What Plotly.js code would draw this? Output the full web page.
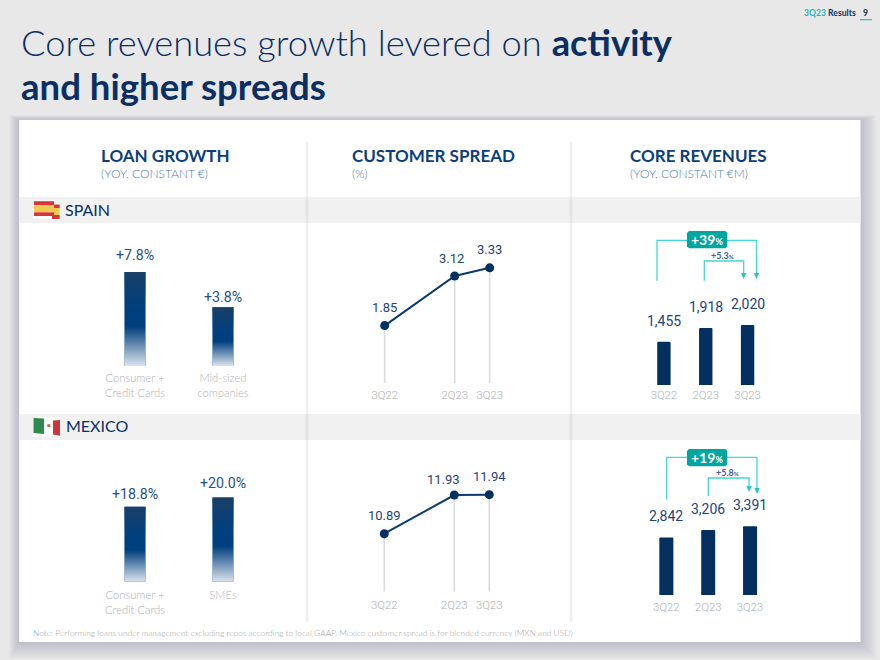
<!DOCTYPE html>
<html><head><meta charset="utf-8">
<script src="https://cdn.plot.ly/plotly-3.0.1.min.js"></script>
<style>html,body{margin:0;padding:0;background:#e8e8e9}#c{width:880px;height:660px}</style>
</head><body><div id="c"></div>
<script>
// ---------- data ----------
var loanLabelsSpain = ['Consumer +<br>Credit Cards', 'Mid-sized<br>companies'];
var loanLabelsMexico = ['Consumer +<br>Credit Cards', 'SMEs'];
var loanTextSpain = ['+7.8%', '+3.8%'];
var loanTextMexico = ['+18.8%', '+20.0%'];
var loanHeightsSpain = [9.4, 5.87];   // bar heights
var loanHeightsMexico = [7.5, 8.42];
var spreadQuarters = ['3Q22', '2Q23', '3Q23'];
var spreadIndex = [0, 2, 3];
var spreadSpain = [1.85, 3.12, 3.33];
var spreadMexico = [10.89, 11.93, 11.94];
var revenueQuarters = ['3Q22', '2Q23', '3Q23'];
var revenueSpain = [1455, 1918, 2020];
var revenueMexico = [2842, 3206, 3391];

// ---------- helpers ----------
var W = 880, H = 660;
function X(p) { return p / W; }
function Y(p) { return 1 - p / H; }
var NAVY = '#0b2f63', BLUE = '#0b3f7c', GREY = '#b0b0b2', TEAL = '#3fd8d8';
var LATO = 'Lato, sans-serif', NUM = 'Roboto, sans-serif';
var layout = {
  width: W, height: H, margin: {l: 0, r: 0, t: 0, b: 0},
  paper_bgcolor: '#e8e8e9', plot_bgcolor: 'rgba(0,0,0,0)',
  showlegend: false, hovermode: false, shapes: [], annotations: []
};
var traces = [];
function note(px, py, text, size, color, opt) {
  opt = opt || {};
  layout.annotations.push({
    xref: 'paper', yref: 'paper', x: X(px), y: Y(py), text: text, showarrow: false,
    xanchor: opt.anchor || 'left', yanchor: 'middle', align: 'left', borderpad: 0, borderwidth: 0,
    font: {family: opt.family || LATO, size: size, color: color, weight: opt.weight || 400}
  });
}
function rect(x0, y0, x1, y1, fill) {
  layout.shapes.push({type: 'rect', xref: 'paper', yref: 'paper', layer: 'below',
    x0: X(x0), x1: X(x1), y0: Y(y0), y1: Y(y1), fillcolor: fill, line: {width: 0}});
}
function poly(pts, fill) {
  var d = pts.map(function (p, i) { return (i ? 'L' : 'M') + X(p[0]) + ',' + Y(p[1]); }).join('') + 'Z';
  layout.shapes.push({type: 'path', xref: 'paper', yref: 'paper', layer: 'below', path: d, fillcolor: fill, line: {width: 0}});
}
function path(pts, color, w) {
  var d = pts.map(function (p, i) { return (i ? 'L' : 'M') + X(p[0]) + ',' + Y(p[1]); }).join('');
  layout.shapes.push({type: 'path', xref: 'paper', yref: 'paper', layer: 'below', path: d, line: {color: color, width: w}});
}
var subplot = 0;
function axes(x0, x1, yBottom, yTop, xr, yr, tickvals, ticktext, tickfont, ticklen, standoff) {
  subplot++;
  var s = subplot === 1 ? '' : String(subplot);
  layout['xaxis' + s] = {domain: [X(x0), X(x1)], range: xr, anchor: 'y' + s, type: 'linear', fixedrange: true,
    showgrid: false, zeroline: false, showline: false, tickmode: 'array', tickvals: tickvals, ticktext: ticktext,
    ticks: 'outside', ticklen: ticklen, tickcolor: 'rgba(0,0,0,0)', tickfont: tickfont, ticklabelstandoff: standoff || 0};
  layout['yaxis' + s] = {domain: [Y(yBottom), Y(yTop)], range: yr, anchor: 'x' + s, fixedrange: true,
    showgrid: false, zeroline: false, showline: false, showticklabels: false, ticks: ''};
  return {x: 'x' + s, y: 'y' + s};
}
function dataLabel(a, x, y, text, yshift, xshift, size, color) {
  layout.annotations.push({xref: a.x, yref: a.y, x: x, y: y, text: text, showarrow: false,
    yshift: yshift, xshift: xshift, xanchor: 'center', yanchor: 'middle',
    font: {family: NUM, size: size, color: color}});
}

// ---------- page furniture ----------
for (var k = 12; k >= 1; k--) {
  rect(19 - k * 0.8, 120 - k * 0.4, 860.5 + k * 1.3, 642 + k * 1.4, 'rgba(95,105,145,0.028)');
}
rect(19, 120, 860.5, 642, '#ffffff');
rect(19, 197, 860.5, 223, '#f1f1f1');
rect(19, 414, 860.5, 440, '#f1f1f1');
[307, 571].forEach(function (x) {
  rect(x - 2, 142, x + 2, 622, 'rgba(190,190,195,0.07)');
  rect(x - 1, 142, x + 1, 622, 'rgba(190,190,195,0.15)');
});

// flags
rect(33, 200, 55, 218.5, '#ffffff'); rect(51, 203.5, 60.5, 220, '#ffffff');
rect(52, 204.5, 59.7, 208, '#d8343c'); rect(52, 208, 59.7, 215, '#f2c84f'); rect(52, 215, 59.7, 219, '#d8343c');
rect(34, 201.2, 54, 205, '#d8343c'); rect(34, 205, 54, 212.3, '#f2c84f'); rect(34, 212.3, 54, 216, '#d8343c');
rect(33, 417.5, 61, 436.5, '#ffffff');
poly([[33.5, 418], [44, 418.6], [44, 434], [33.5, 433]], '#2e8a4c');
poly([[53, 420.5], [60, 420], [60, 435.7], [53, 434.5]], '#d0343c');
rect(47.3, 424.2, 50.3, 427, '#a8773a');

// titles
note(21, 42, 'Core revenues growth levered on <b>activity</b>', 36.3, NAVY, {weight: 300});
note(21, 86, '<b>and higher spreads</b>', 36.6, NAVY);
note(804, 13, '<b style="color:#1fb4b4">3Q23</b> <b>Results</b>', 8.6, NAVY);
note(863, 13, '<b>9</b>', 8.6, NAVY);
rect(860, 19, 872, 20.3, '#2cc4c4');

[[101, 'LOAN GROWTH', '(YOY, CONSTANT €)'], [352, 'CUSTOMER SPREAD', '(%)'], [630, 'CORE REVENUES', '(YOY, CONSTANT €M)']].forEach(function (h) {
  note(h[0], 156, h[1], 17, BLUE, {weight: 700});
  note(h[0], 173, h[2], 12, '#4f7cae', {weight: 300});
});
note(65, 209.5, 'SPAIN', 16, NAVY);
note(66, 425.5, 'MEXICO', 16, NAVY);
note(33, 633, '<span style="color:#999999">Note:</span> Performing loans under management excluding repos according to local GAAP, Mexico customer spread is for blended currency (MXN and USD)', 8.4, '#a4a4a4', {weight: 300});

// ---------- loan growth ----------
function loanChart(yBottom, heights, labels, texts, shifts, ticklen) {
  var a = axes(91, 267, yBottom, yBottom - 100, [-0.5, 1.5], [0, 10], [0, 1], labels,
    {family: LATO, size: 11.2, color: GREY, weight: 300}, ticklen);
  traces.push({type: 'bar', x: [0, 1], y: heights, width: 0.24, xaxis: a.x, yaxis: a.y,
    marker: {color: '#003f7e', line: {width: 0}}, hoverinfo: 'skip'});
  heights.forEach(function (h, i) {
    traces.push({type: 'scatter', mode: 'none', xaxis: a.x, yaxis: a.y, hoverinfo: 'skip',
      x: [i - 0.12, i + 0.12, i + 0.12, i - 0.12, i - 0.12], y: [0, 0, h, h, 0], fill: 'toself',
      fillgradient: {type: 'vertical', colorscale: [
        [0, 'rgba(255,255,255,0.86)'], [0.42, 'rgba(255,255,255,0)'], [0.6, 'rgba(20,64,106,0)'], [1, 'rgba(28,64,100,0.95)']]}});
    dataLabel(a, i, h, texts[i], shifts[i], 0, 14.2, '#1f5088');
  });
}
loanChart(366, loanHeightsSpain, loanLabelsSpain, loanTextSpain, [17, 10.5], 2);
loanChart(581.7, loanHeightsMexico, loanLabelsMexico, loanTextMexico, [12.5, 14.5], 3);

// ---------- customer spread ----------
function spreadChart(yBottom, yTop, xZero, yr, values, shifts, xshifts, standoff) {
  var a = axes(370, 510, yBottom, yTop, [(370 - xZero) / 35, (510 - xZero) / 35], yr, spreadIndex, spreadQuarters,
    {family: NUM, size: 11.3, color: GREY, weight: 300}, 0, standoff);
  traces.push({type: 'scatter', mode: 'lines+markers', x: spreadIndex, y: values, xaxis: a.x, yaxis: a.y, hoverinfo: 'skip',
    cliponaxis: false,
    line: {color: '#0b3a6e', width: 2}, marker: {color: '#03305f', size: 9},
    error_y: {type: 'data', symmetric: false, array: values.map(function () { return 0; }),
      arrayminus: values.map(function (v) { return v - yr[0]; }), width: 0, thickness: 1.6, color: '#dcdcde'}});
  values.forEach(function (v, i) {
    dataLabel(a, spreadIndex[i], v, v.toFixed(2), shifts[i], xshifts[i], 13, '#1f4478');
  });
}
spreadChart(383, 260, 384.7, [0.38, 3.53], spreadSpain, [18, 18, 18.5], [0, -3, 0], 1);
spreadChart(591.7, 480, 384.3, [9.33, 12.335], spreadMexico, [18.5, 16, 18], [0, -11, 0], 3);

// ---------- core revenues ----------
function revenueChart(x0, x1, yBottom, yTop, yMax, values, width, standoff) {
  var a = axes(x0, x1, yBottom, yTop, [-0.5, 2.5], [0, yMax], [0, 1, 2], revenueQuarters,
    {family: NUM, size: 11.3, color: GREY, weight: 300}, 0, standoff);
  traces.push({type: 'bar', x: [0, 1, 2], y: values, width: width, xaxis: a.x, yaxis: a.y, hoverinfo: 'skip',
    marker: {color: '#03305f', cornerradius: 1.5, line: {width: 0}}});
  values.forEach(function (v, i) {
    dataLabel(a, i, v, v.toLocaleString('en-US'), 21, 0, 14, '#1f4478');
  });
}
revenueChart(643, 768.5, 385, 313.7, 2400, revenueSpain, 0.32, -1);
revenueChart(645.4, 771, 595, 522.1, 3600, revenueMexico, 0.335, 1);

// brackets
function pill(x0, x1, y0, y1) {
  var r = 2;
  poly([[x0 + r, y0], [x1 - r, y0], [x1, y0 + r], [x1, y1 - r], [x1 - r, y1], [x0 + r, y1], [x0, y1 - r], [x0, y0 + r]], '#00a59f');
}
function arrow(x, y) { poly([[x - 2.6, y - 6], [x + 2.6, y - 6], [x, y]], '#22c6c6'); }
function bracket(outerL, outerY, outerDropL, outerR, outerEnd, innerL, innerY, innerDrop, innerR, innerEnd, boxY, main, sub, subX) {
  path([[outerL, outerDropL], [outerL, outerY], [690, outerY]], TEAL, 1.3);
  path([[725, outerY], [outerR, outerY], [outerR, outerEnd - 4]], TEAL, 1.3);
  arrow(outerR, outerEnd);
  path([[innerL, innerDrop], [innerL, innerY], [innerR, innerY], [innerR, innerEnd - 4]], TEAL, 1.3);
  arrow(innerR, innerEnd);
  pill(687, 727.3, boxY, boxY + 17.3);
  note(707, boxY + 8.8, '<b>' + main + '<span style="font-size:9px">%</span></b>', 14, '#ffffff', {anchor: 'center'});
  note(subX, innerY - 6, '<b>' + sub + '<span style="font-size:6px">%</span></b>', 9, '#3a5da0', {anchor: 'center'});
}
bracket(657, 240.3, 280.7, 756.5, 279, 704.3, 261, 280.7, 743.7, 279, 231, '+39', '+5.3', 722);
bracket(666.7, 457.3, 499.5, 757, 494, 708.3, 478, 496, 749, 492, 449, '+19', '+5.8', 727);

Plotly.newPlot('c', traces, layout, {displayModeBar: false, staticPlot: true});
</script></body></html>
